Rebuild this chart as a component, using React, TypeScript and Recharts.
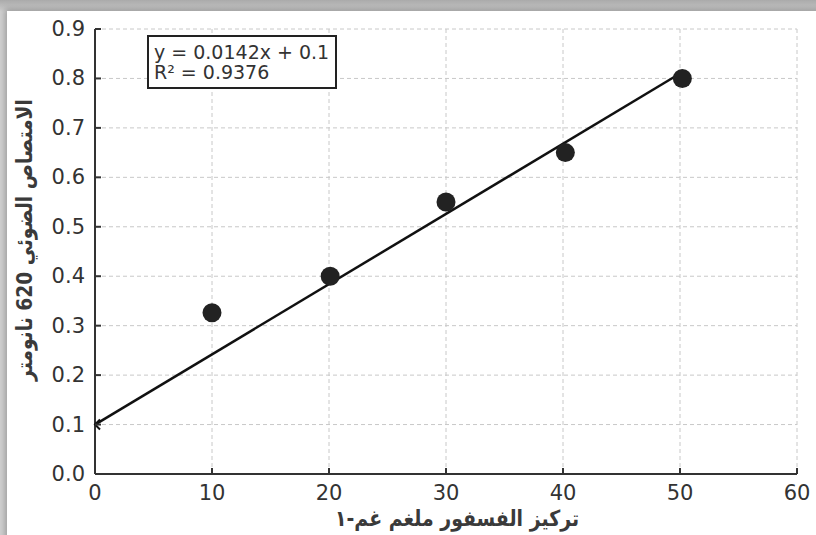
import React from "react";
import { ScatterChart, Scatter, XAxis, YAxis, CartesianGrid } from "recharts";

const concentrations = [10, 20.1, 30, 40.2, 50.2];
const absorbances = [0.326, 0.4, 0.55, 0.65, 0.8];
const trendX = [0, 50];
const trendY = [0.1, 0.81];
const xTicks = [0, 10, 20, 30, 40, 50, 60];
const yTicks = [0, 0.1, 0.2, 0.3, 0.4, 0.5, 0.6, 0.7, 0.8, 0.9];
const equationText = "y = 0.0142x + 0.1";
const r2Text = "R² = 0.9376";
const xLabel = "تركيز الفسفور ملغم غم-١";
const yLabel = "الامتصاص الضوئي 620 نانومتر";

const points = concentrations.map((x, i) => ({ x, y: absorbances[i] }));
const trend = trendX.map((x, i) => ({ x, y: trendY[i] }));

const FONT = "'DejaVu Sans', sans-serif";
const TEXT = "#333";

const XTick = (props: any) => {
  const { x, y, payload } = props;
  return (
    <g>
      <line x1={x} x2={x} y1={y - 11} y2={y - 17} stroke="#333" strokeWidth={2} />
      <text x={x} y={y} dy={15} textAnchor="middle" fontFamily={FONT} fontSize={21} fill={TEXT}>
        {payload.value}
      </text>
    </g>
  );
};

const YTick = (props: any) => {
  const { x, y, payload } = props;
  return (
    <g>
      <line x1={x + 10} x2={x + 16} y1={y} y2={y} stroke="#333" strokeWidth={2} />
      <text x={x} y={y} dy={7} textAnchor="end" fontFamily={FONT} fontSize={21} fill={TEXT}>
        {Number(payload.value).toFixed(1)}
      </text>
    </g>
  );
};

const Dot = (props: any) => {
  const { cx, cy } = props;
  return <circle cx={cx} cy={cy} r={9.5} fill="#222" />;
};

const TrendEnd = (props: any) => {
  const { cx, cy, index } = props;
  if (index !== 0) return null;
  return (
    <polyline points={`${cx + 5},${cy - 5} ${cx},${cy} ${cx + 5},${cy + 5}`} fill="none" stroke="#111" strokeWidth={2} />
  );
};

export default function App() {
  return (
    <div style={{ position: "absolute", left: 0, top: 0, width: 816, height: 535, background: "linear-gradient(#aaa, #d0d0d0 12px)", overflow: "hidden" }}>
      <div style={{ position: "absolute", left: 7, top: 11, width: 830, height: 540, background: "#fff", boxShadow: "0 0 6px 2px rgba(0,0,0,0.25)" }} />
      <div style={{ position: "absolute", left: 0, top: 0 }}>
        <ScatterChart width={816} height={535} margin={{ top: 29, right: 19, bottom: 21, left: 35 }}>
          <CartesianGrid stroke="#c8c8c8" strokeDasharray="4 3" horizontalValues={yTicks} verticalValues={xTicks} />
          <XAxis
            type="number"
            dataKey="x"
            domain={[0, 60]}
            ticks={xTicks}
            interval={0}
            height={40}
            tickSize={0}
            tickMargin={11}
            tickLine={false}
            axisLine={{ stroke: "#333", strokeWidth: 2 }}
            tick={<XTick />}
          />
          <YAxis
            type="number"
            dataKey="y"
            domain={[0, 0.9]}
            ticks={yTicks}
            interval={0}
            width={60}
            tickSize={0}
            tickMargin={10}
            tickLine={false}
            axisLine={{ stroke: "#333", strokeWidth: 2 }}
            tick={<YTick />}
          />
          <Scatter data={trend} line={{ stroke: "#111", strokeWidth: 2.5 }} shape={<TrendEnd />} isAnimationActive={false} />
          <Scatter data={points} shape={<Dot />} isAnimationActive={false} />
        </ScatterChart>
      </div>
      <div
        style={{
          position: "absolute",
          left: 147,
          top: 35,
          width: 190,
          height: 54,
          border: "2px solid #222",
          background: "#fff",
          fontFamily: FONT,
          fontSize: 19,
          lineHeight: "20px",
          color: TEXT,
          padding: "5px 0 0 5px",
          boxSizing: "border-box",
        }}
      >
        <div>{equationText}</div>
        <div>{r2Text}</div>
      </div>
      <div
        dir="rtl"
        style={{ position: "absolute", left: 457, top: 519, transform: "translate(-50%, -50%) scaleX(0.86)", whiteSpace: "nowrap", fontFamily: FONT, fontWeight: "bold", fontSize: 22, lineHeight: "22px", color: "#3a3a3a" }}
      >
        {xLabel}
      </div>
      <div
        dir="rtl"
        style={{ position: "absolute", left: 25, top: 240, transform: "translate(-50%, -50%) rotate(-90deg) scaleX(0.85)", whiteSpace: "nowrap", fontFamily: FONT, fontWeight: "bold", fontSize: 22, lineHeight: "22px", color: "#3a3a3a" }}
      >
        {yLabel}
      </div>
    </div>
  );
}
